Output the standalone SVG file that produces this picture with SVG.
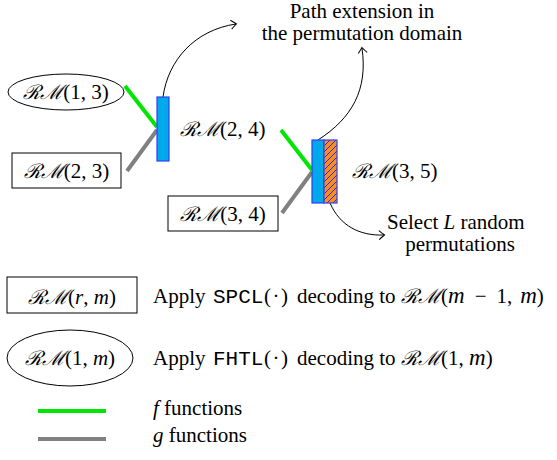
<svg xmlns="http://www.w3.org/2000/svg" width="557" height="460" viewBox="0 0 557 460">
<style>
text{font-family:"Liberation Serif","Times New Roman",serif;font-size:21px;fill:#000}
.m{font-family:"Liberation Mono","Courier New",monospace;font-size:21px}
.i{font-style:italic}
.cal{font-family:"DejaVu Serif",serif;font-style:italic;font-size:20px}
.mi{font-style:italic;font-size:23px}
.node{fill:#fff;stroke:#000;stroke-width:1}
.f{stroke:#00E600;stroke-width:4;fill:none}
.g{stroke:#808080;stroke-width:4;fill:none}
.blk{fill:#00A8EC;stroke:#3040F0;stroke-width:1.2}
.arr{fill:none;stroke:#000;stroke-width:1;marker-end:url(#to)}
</style>
<defs>
<marker id="to" viewBox="-6 -6 10 12" markerWidth="10" markerHeight="12" refX="0" refY="0" orient="auto" markerUnits="userSpaceOnUse">
<path d="M-5,-4.5 Q-1,-1 0.5,0 Q-1,1 -5,4.5" fill="none" stroke="#000" stroke-width="1"/>
</marker>
<pattern id="hatch" patternUnits="userSpaceOnUse" width="6" height="6" patternTransform="translate(324,140)">
<rect width="6" height="6" fill="#FF8C1A"/>
<path d="M-1,7 L7,-1 M-4,4 L4,-4 M2,10 L10,2" stroke="#2030E0" stroke-width="1"/>
</pattern>
</defs>

<g id="connectors">
<line class="f" x1="125" y1="86" x2="157" y2="127"/>
<line class="g" x1="157" y1="130" x2="127" y2="171"/>
<line class="f" x1="281" y1="130" x2="312" y2="170"/>
<line class="g" x1="312" y1="172" x2="282" y2="213"/>
<path class="arr" d="M163,97 C168,60 195,30 236,24"/>
<path class="arr" d="M318,140 C352,118 368,90 362,48"/>
<path class="arr" d="M330,203 C340,226 360,236 384,235"/>
</g>

<g id="rm13">
<ellipse class="node" cx="66" cy="92" rx="58" ry="18"/>
<text x="66" y="99" text-anchor="middle"><tspan class="cal">ℛℳ</tspan>(1, 3)</text>
</g>
<g id="rm23">
<rect class="node" x="12" y="153" width="109" height="35"/>
<text x="66.5" y="178" text-anchor="middle"><tspan class="cal">ℛℳ</tspan>(2, 3)</text>
</g>
<g id="rm24">
<rect class="blk" x="157" y="97" width="12" height="64"/>
<text x="180" y="136"><tspan class="cal">ℛℳ</tspan>(2, 4)</text>
</g>
<g id="rm34">
<rect class="node" x="168" y="196" width="110" height="35"/>
<text x="223" y="221" text-anchor="middle"><tspan class="cal">ℛℳ</tspan>(3, 4)</text>
</g>
<g id="rm35">
<rect class="blk" x="312" y="140" width="12" height="63"/>
<rect x="324" y="140" width="13" height="63" fill="url(#hatch)" stroke="#3040F0" stroke-width="1.2"/>
<text x="352" y="178"><tspan class="cal">ℛℳ</tspan>(3, 5)</text>
</g>
<g id="path-ext">
<text x="362" y="18" text-anchor="middle">Path extension in</text>
<text x="362" y="40" text-anchor="middle">the permutation domain</text>
</g>
<g id="select">
<text x="387" y="229">Select <tspan class="i">L</tspan> random</text>
<text x="460" y="251" text-anchor="middle">permutations</text>
</g>

<g id="legend-box">
<rect class="node" x="7" y="277" width="130" height="36"/>
<text x="72" y="304" text-anchor="middle"><tspan class="cal">ℛℳ</tspan>(<tspan class="i">r</tspan>, <tspan class="i">m</tspan>)</text>
<text x="153" y="303">Apply <tspan class="m" x="213">SPCL</tspan><tspan x="264">(</tspan><tspan dx="1.5">·</tspan><tspan dx="1.5">)</tspan><tspan x="297">decoding to</tspan><tspan class="cal" x="401">ℛℳ</tspan>(<tspan class="mi">m</tspan><tspan dx="10">−</tspan><tspan dx="10">1,</tspan><tspan class="mi" dx="8">m</tspan>)</text>
</g>
<g id="legend-ellipse">
<ellipse class="node" cx="70" cy="358" rx="63" ry="28"/>
<text x="70" y="365" text-anchor="middle"><tspan class="cal">ℛℳ</tspan>(1, <tspan class="i">m</tspan>)</text>
<text x="153" y="365">Apply <tspan class="m" x="213">FHTL</tspan><tspan x="264">(</tspan><tspan dx="1.5">·</tspan><tspan dx="1.5">)</tspan><tspan x="297">decoding to</tspan><tspan class="cal" x="401">ℛℳ</tspan>(1, <tspan class="mi">m</tspan>)</text>
</g>
<g id="legend-f">
<line class="f" x1="38" y1="411" x2="106" y2="411"/>
<text x="153" y="415"><tspan class="i">f</tspan> functions</text>
</g>
<g id="legend-g">
<line class="g" x1="38" y1="439" x2="106" y2="439"/>
<text x="153" y="442"><tspan class="i">g</tspan> functions</text>
</g>
</svg>
